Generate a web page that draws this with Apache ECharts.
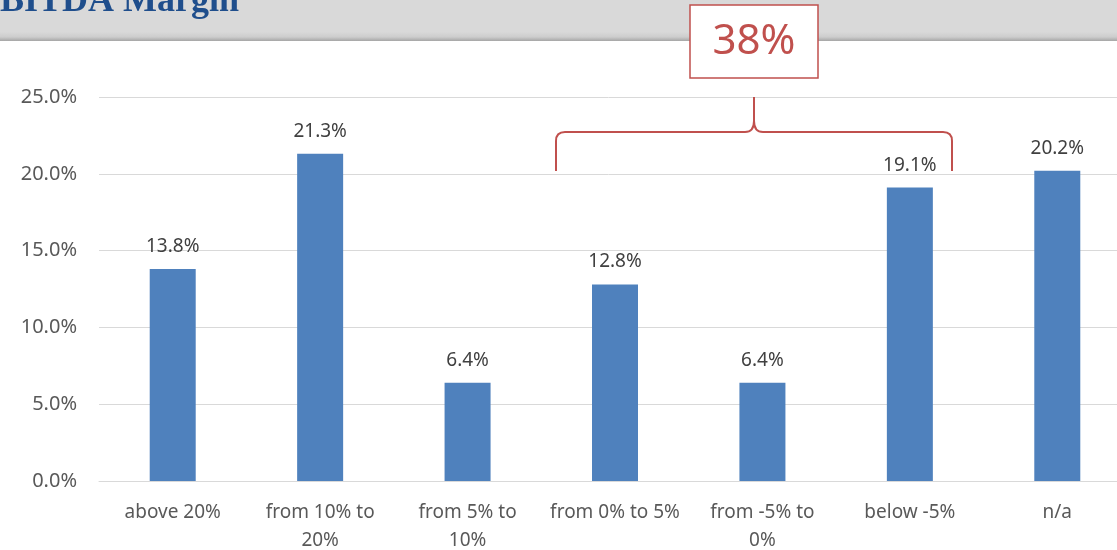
<!DOCTYPE html>
<html>
<head>
<meta charset="utf-8">
<script src="https://cdn.jsdelivr.net/npm/echarts@6/dist/echarts.min.js"></script>
<style>
  html, body { margin: 0; padding: 0; background: #fff; }
  #chart { width: 1117px; height: 550px; }
</style>
</head>
<body>
<div id="chart"></div>
<script>
// categories and values (percent)
const categories = ['above 20%', 'from 10% to\n20%', 'from 5% to\n10%', 'from 0% to 5%', 'from -5% to\n0%', 'below -5%', 'n/a']
const shares = [13.8, 21.3, 6.4, 12.8, 6.4, 19.1, 20.2]
const yTicks = [0, 5, 10, 15, 20, 25]
const bracketTotal = '38%'
const bracketFrom = 3   // first category under the brace
const bracketTo = 5     // last category under the brace

const red = '#c0504d'
const chart = echarts.init(document.getElementById('chart'))

chart.setOption({
  animation: false,
  textStyle: { fontFamily: 'Noto Sans' },
  grid: { left: 99, width: 1032, top: 97, bottom: 69, containLabel: false, outerBoundsMode: 'none' },
  xAxis: {
    type: 'category',
    data: categories,
    axisLine: { lineStyle: { color: '#d9d9d9', width: 1 } },
    axisTick: { show: false },
    axisLabel: { color: '#595959', fontSize: 19, lineHeight: 28, margin: 18, interval: 0 }
  },
  yAxis: {
    type: 'value',
    min: yTicks[0],
    max: yTicks[yTicks.length - 1],
    interval: 5,
    axisLine: { show: false },
    axisTick: { show: false },
    splitLine: { lineStyle: { color: '#d9d9d9', width: 1 } },
    axisLabel: { color: '#595959', fontSize: 20, margin: 22, formatter: v => v.toFixed(1) + '%' }
  },
  series: [{
    type: 'bar',
    data: shares,
    barWidth: 46,
    itemStyle: { color: '#4f81bd' },
    label: {
      show: true,
      position: 'top',
      distance: 13,
      color: '#404040',
      fontSize: 19,
      formatter: p => p.value.toFixed(1) + '%'
    }
  }]
})

// header band, brace and total box placed from the axis positions
const px = i => chart.convertToPixel({ xAxisIndex: 0 }, categories[i])
const py = v => Math.round(chart.convertToPixel({ yAxisIndex: 0 }, v))
const step = px(1) - px(0)
const xl = Math.round(px(bracketFrom) - step * 0.4)
const xr = Math.round(px(bracketTo) + step * 0.285)
const xm = Math.round((xl + xr) / 2)
const yTip = py(25)
const yBar = py(22.7)
const yEnd = py(20.2)
const r = 9

const braceStyle = { stroke: red, lineWidth: 2, fill: null }
const seg = (x1, y1, x2, y2) => ({ type: 'line', z: 5, silent: true, shape: { x1, y1, x2, y2 }, style: braceStyle })
const curve = (x1, y1, cx, cy, x2, y2) => ({
  type: 'bezierCurve', z: 5, silent: true,
  shape: { x1, y1, x2, y2, cpx1: cx, cpy1: cy },
  style: braceStyle
})

const brace = [
  seg(xl, yEnd, xl, yBar + r),
  curve(xl, yBar + r, xl, yBar, xl + r, yBar),
  seg(xl + r, yBar, xm - r, yBar),
  curve(xm - r, yBar, xm, yBar, xm, yBar - r - 2),
  seg(xm, yBar - r - 2, xm, yTip),
  curve(xm, yBar - r - 2, xm, yBar, xm + r, yBar),
  seg(xm + r, yBar, xr - r, yBar),
  curve(xr - r, yBar, xr, yBar, xr, yBar + r),
  seg(xr, yBar + r, xr, yEnd)
]

chart.setOption({
  graphic: [
    {
      type: 'rect', z: 1, silent: true,
      shape: { x: 0, y: 0, width: 1117, height: 41 },
      style: {
        fill: {
          type: 'linear', x: 0, y: 0, x2: 0, y2: 1,
          colorStops: [
            { offset: 0, color: '#d9d9d9' },
            { offset: 0.78, color: '#d9d9d9' },
            { offset: 0.9, color: '#cdcdcd' },
            { offset: 1, color: '#a6a6a6' }
          ]
        }
      }
    },
    {
      type: 'text', z: 2, x: -24, y: 20,
      style: { text: 'EBITDA Margin', font: 'bold 36px "Liberation Serif"', fill: '#1f4e8c', verticalAlign: 'bottom' }
    },
    ...brace,
    {
      type: 'rect', z: 6,
      shape: { x: xm - 64, y: 5, width: 128, height: 73 },
      style: { fill: '#fff', stroke: red, lineWidth: 1.5 }
    },
    {
      type: 'text', z: 7, x: xm, y: 42,
      style: { text: bracketTotal, font: '42px "Noto Sans"', fill: red, align: 'center', verticalAlign: 'middle' }
    }
  ]
})
</script>
</body>
</html>
